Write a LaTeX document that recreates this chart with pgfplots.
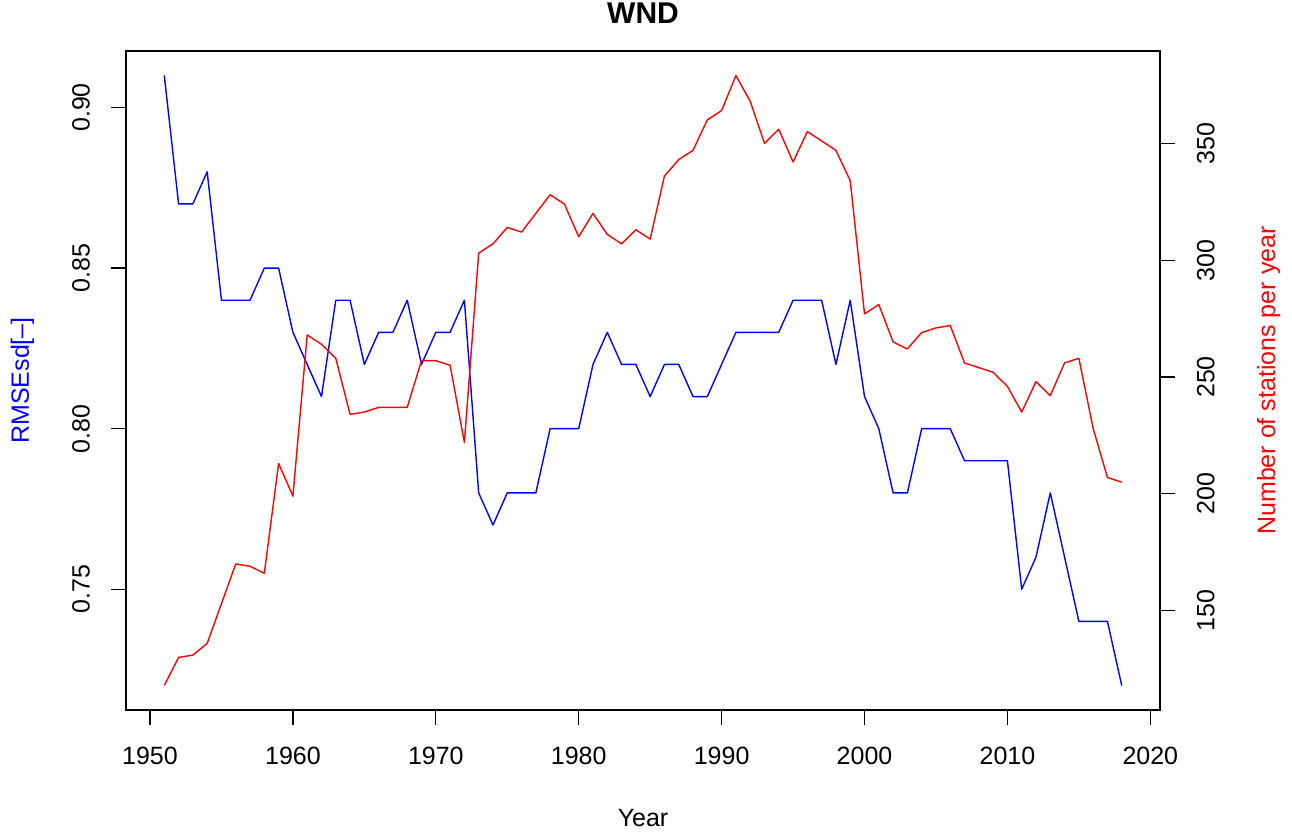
\documentclass[border=0pt]{standalone}
\usepackage{fontspec}
\setmainfont{Liberation Sans}
\usepackage{pgfplots}
\usepackage{pgfplotstable}
\pgfplotsset{compat=1.18}
\pgfplotstableread{
year rmse
1951 0.91
1952 0.87
1953 0.87
1954 0.88
1955 0.84
1956 0.84
1957 0.84
1958 0.85
1959 0.85
1960 0.83
1961 0.82
1962 0.81
1963 0.84
1964 0.84
1965 0.82
1966 0.83
1967 0.83
1968 0.84
1969 0.82
1970 0.83
1971 0.83
1972 0.84
1973 0.78
1974 0.77
1975 0.78
1976 0.78
1977 0.78
1978 0.80
1979 0.80
1980 0.80
1981 0.82
1982 0.83
1983 0.82
1984 0.82
1985 0.81
1986 0.82
1987 0.82
1988 0.81
1989 0.81
1990 0.82
1991 0.83
1992 0.83
1993 0.83
1994 0.83
1995 0.84
1996 0.84
1997 0.84
1998 0.82
1999 0.84
2000 0.81
2001 0.80
2002 0.78
2003 0.78
2004 0.80
2005 0.80
2006 0.80
2007 0.79
2008 0.79
2009 0.79
2010 0.79
2011 0.75
2012 0.76
2013 0.78
2014 0.76
2015 0.74
2016 0.74
2017 0.74
2018 0.72
}\rmsedata
\pgfplotstableread{
year n
1951 118
1952 130
1953 131
1954 136
1955 153
1956 170
1957 169
1958 166
1959 213
1960 199
1961 268
1962 264
1963 258
1964 234
1965 235
1966 237
1967 237
1968 237
1969 257
1970 257
1971 255
1972 222
1973 303
1974 307
1975 314
1976 312
1977 320
1978 328
1979 324
1980 310
1981 320
1982 311
1983 307
1984 313
1985 309
1986 336
1987 343
1988 347
1989 360
1990 364
1991 379
1992 368
1993 350
1994 356
1995 342
1996 355
1997 351
1998 347
1999 334
2000 277
2001 281
2002 265
2003 262
2004 269
2005 271
2006 272
2007 256
2008 254
2009 252
2010 246
2011 235
2012 248
2013 242
2014 256
2015 258
2016 228
2017 207
2018 205
}\stationdata
\newcommand{\fs}{\fontsize{25}{30}\selectfont}
\begin{document}
\begin{tikzpicture}
\useasboundingbox (0,0) rectangle (1292pt,833pt);
\begin{axis}[
  at={(126pt,123pt)}, anchor=south west,
  scale only axis, width=1034pt, height=659pt,
  xmin=1948.32, xmax=2020.68,
  ymin=0.7124, ymax=0.9176,
  axis line style={line width=1.2pt},
  tick align=outside, tick pos=left,
  major tick length=15pt,
  every tick/.style={black, line width=1.2pt},
  xtick={1950,1960,1970,1980,1990,2000,2010,2020},
  xticklabels={1950,1960,1970,1980,1990,2000,2010,2020},
  ytick={0.75,0.80,0.85,0.90},
  yticklabels={0.75,0.80,0.85,0.90},
  xticklabel style={font=\fs, anchor=north, inner sep=0pt},
  yticklabel style={font=\fs, rotate=90, anchor=south, inner sep=0pt},
  xticklabel shift=21.7pt,
  yticklabel shift=21pt,
  xlabel={Year},
  ylabel={RMSEsd[\textendash]},
  every axis x label/.style={at={([yshift=-116pt]axis description cs:0.5,0)}, anchor=base, inner sep=0pt, font=\fs},
  every axis y label/.style={at={([xshift=-97pt]axis description cs:0,0.5)}, rotate=90, anchor=base, inner sep=0pt, font=\fs, text=blue},
  title={WND},
  title style={at={([yshift=21.7pt]axis description cs:0.5,1)}, anchor=base, inner sep=0pt, font=\bfseries\fontsize{30}{36}\selectfont},
]
\addplot[color=blue, line width=1.4pt, line join=round] table[x=year, y=rmse] {\rmsedata};
\end{axis}
\begin{axis}[
  at={(126pt,123pt)}, anchor=south west,
  scale only axis, width=1034pt, height=659pt,
  xmin=1948.32, xmax=2020.68,
  ymin=107.5, ymax=389.5,
  axis x line=none,
  axis y line*=right,
  axis line style={line width=1.2pt, -},
  tick align=outside,
  major tick length=15pt,
  every tick/.style={black, line width=1.2pt},
  ytick={150,200,250,300,350},
  yticklabels={150,200,250,300,350},
  yticklabel style={font=\fs, rotate=90, anchor=north, inner sep=0pt},
  yticklabel shift=21.7pt,
  ylabel={Number of stations per year},
  every axis y label/.style={at={([xshift=115pt]axis description cs:1,0.5)}, rotate=90, anchor=base, inner sep=0pt, font=\fs, text=red},
]
\addplot[color=red, line width=1.4pt, line join=round] table[x=year, y=n] {\stationdata};
\end{axis}
\end{tikzpicture}
\end{document}
